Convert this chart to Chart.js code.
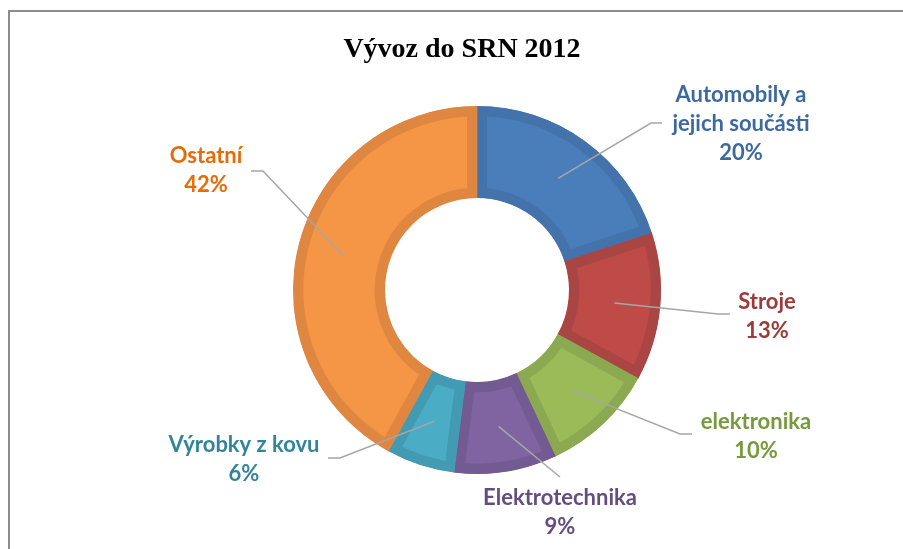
<!DOCTYPE html>
<html>
<head>
<meta charset="utf-8">
<script src="https://cdn.jsdelivr.net/npm/chart.js@4.4.0/dist/chart.umd.min.js"></script>
<style>
  html, body { margin: 0; padding: 0; background: #fff; }
  #wrap { position: relative; width: 903px; height: 549px; overflow: hidden; }
  #frame { position: absolute; left: 8px; top: 10px; right: -10px; bottom: -10px;
           border-left: 2px solid #8c8c8c; border-top: 2px solid #8c8c8c; }
  #chart { position: absolute; left: 0; top: 0; }
</style>
</head>
<body>
<div id="wrap">
  <div id="frame"></div>
  <canvas id="chart" width="903" height="549"></canvas>
</div>
<script>
// Data
const categories = ['Automobily a jejich součásti', 'Stroje', 'elektronika', 'Elektrotechnika', 'Výrobky z kovu', 'Ostatní'];
const labelLines = [['Automobily a', 'jejich součásti'], ['Stroje'], ['elektronika'], ['Elektrotechnika'], ['Výrobky z kovu'], ['Ostatní']];
const shares = [20, 13, 10, 9, 6, 42];

const fillColors   = ['#4a7ebb', '#be4b48', '#9bbb59', '#8064a2', '#4bacc6', '#f59646'];
const borderColors = ['#4473ab', '#a94643', '#8ba950', '#735a93', '#429bb3', '#df8740'];
const textColors   = ['#3d69a1', '#9c3b38', '#779a3e', '#634d81', '#31849b', '#e46c0a'];

// label placement relative to the doughnut centre: text centre x, first baseline y, elbow, line end
const labelLayout = [
  { tx: 264, ty: -188, ex: 174, ey: -167, lx: 185, ly: -167 },
  { tx: 290, ty: 19,   ex: 241, ey: 24,   lx: 253, ly: 24 },
  { tx: 279, ty: 139,  ex: 203, ey: 144,  lx: 215, ly: 144 },
  { tx: 83,  ty: 215,  ex: 83,  ey: 187,  lx: 83,  ly: 187 },
  { tx: -233, ty: 162, ex: -137, ey: 168, lx: -149, ly: 168 },
  { tx: -271, ty: -127, ex: -214, ey: -119, lx: -226, ly: -119 }
];

const labelPlugin = {
  id: 'calloutLabels',
  afterDraw(chart) {
    const ctx = chart.ctx;
    const area = chart.chartArea;
    const cx = (area.left + area.right) / 2;
    const cy = (area.top + area.bottom) / 2;

    // title
    ctx.save();
    ctx.font = 'bold 28px "Liberation Serif", "Times New Roman", serif';
    ctx.fillStyle = '#000';
    ctx.textAlign = 'center';
    ctx.textBaseline = 'alphabetic';
    ctx.fillText('Vývoz do SRN 2012', 462, 57);
    ctx.restore();

    const meta = chart.getDatasetMeta(0);
    meta.data.forEach((arc, i) => {
      const p = arc.getCenterPoint();
      const l = labelLayout[i];
      ctx.save();
      ctx.strokeStyle = '#a6a6a6';
      ctx.lineWidth = 1.5;
      ctx.beginPath();
      ctx.moveTo(p.x, p.y);
      ctx.lineTo(cx + l.ex, cy + l.ey);
      ctx.lineTo(cx + l.lx, cy + l.ly);
      ctx.stroke();

      ctx.font = 'bold 22px Lato, "Open Sans", sans-serif';
      ctx.fillStyle = textColors[i];
      ctx.textAlign = 'center';
      ctx.textBaseline = 'alphabetic';
      const lines = labelLines[i].concat([shares[i] + '%']);
      lines.forEach((t, k) => ctx.fillText(t, cx + l.tx, cy + l.ty + k * 29));
      ctx.restore();
    });
  }
};

new Chart(document.getElementById('chart'), {
  type: 'doughnut',
  data: {
    labels: categories,
    datasets: [{
      data: shares,
      backgroundColor: fillColors,
      borderColor: borderColors,
      borderWidth: 10,
      borderAlign: 'inner',
      borderJoinStyle: 'miter',
      hoverOffset: 0
    }]
  },
  options: {
    responsive: false,
    animation: false,
    cutout: '50%',
    layout: { padding: { left: 293, right: 242, top: 106, bottom: 75 } },
    plugins: {
      legend: { display: false },
      tooltip: { enabled: false },
      title: { display: false }
    }
  },
  plugins: [labelPlugin]
});
</script>
</body>
</html>
